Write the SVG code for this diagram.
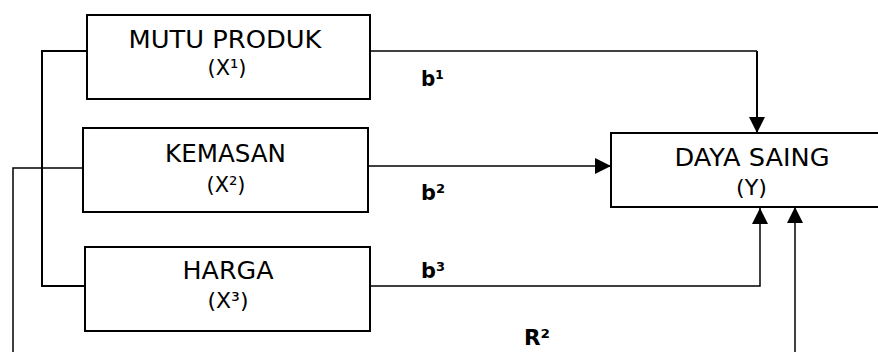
<svg xmlns="http://www.w3.org/2000/svg" width="878" height="352" viewBox="0 0 878 352">
<style>
  .box { fill: #ffffff; stroke: #000000; stroke-width: 2; }
  .t { font-family: "DejaVu Sans", "Liberation Sans", Arial, sans-serif; font-size: 25px; fill: #000000; text-anchor: middle; }
  .s { font-family: "DejaVu Sans", "Liberation Sans", Arial, sans-serif; font-size: 22px; fill: #000000; text-anchor: middle; }
  .lbl { font-family: "DejaVu Sans", "Liberation Sans", Arial, sans-serif; font-size: 22px; font-weight: bold; fill: #000000; }
  .ln { fill: none; stroke: #000000; stroke-width: 1.5; }
  .ln2 { fill: none; stroke: #000000; stroke-width: 2; }
</style>
<defs>
  <marker id="ah" markerUnits="userSpaceOnUse" markerWidth="16" markerHeight="16" viewBox="0 0 16 16" refX="16" refY="8" orient="auto">
    <path d="M0,0 L16,8 L0,16 Z" fill="#000000"/>
  </marker>
</defs>
<rect width="878" height="352" fill="#ffffff"/>
<g id="connectors">
  <polyline class="ln2" points="87,51 42,51 42,286 87,286"/>
  <polyline class="ln" points="83,168 13,168 13,352"/>
  <polyline class="ln" points="370,51 757,51"/>
  <line class="ln2" x1="757" y1="51" x2="757" y2="133" marker-end="url(#ah)"/>
  <line class="ln" x1="369" y1="166" x2="611" y2="166" marker-end="url(#ah)"/>
  <polyline class="ln" points="370,286 760,286 760,208" marker-end="url(#ah)"/>
  <line class="ln" x1="795" y1="352" x2="795" y2="207" marker-end="url(#ah)"/>
</g>
<g id="node-x1">
  <rect class="box" x="87" y="15" width="283" height="84"/>
  <text class="t" x="225" y="48" textLength="193" lengthAdjust="spacingAndGlyphs">MUTU PRODUK</text>
  <text class="s" x="227" y="75" textLength="39" lengthAdjust="spacingAndGlyphs">(X¹)</text>
</g>
<g id="node-x2">
  <rect class="box" x="83" y="128" width="285" height="84"/>
  <text class="t" x="225.5" y="162" textLength="121" lengthAdjust="spacingAndGlyphs">KEMASAN</text>
  <text class="s" x="226" y="192" textLength="39" lengthAdjust="spacingAndGlyphs">(X²)</text>
</g>
<g id="node-x3">
  <rect class="box" x="85" y="247" width="285" height="84"/>
  <text class="t" x="228" y="279" textLength="91" lengthAdjust="spacingAndGlyphs">HARGA</text>
  <text class="s" x="228" y="308" textLength="41" lengthAdjust="spacingAndGlyphs">(X³)</text>
</g>
<g id="node-y">
  <rect class="box" x="611" y="133" width="280" height="74"/>
  <text class="t" x="752" y="166" textLength="155" lengthAdjust="spacingAndGlyphs">DAYA SAING</text>
  <text class="s" x="751.5" y="195" textLength="31" lengthAdjust="spacingAndGlyphs">(Y)</text>
</g>
<g id="labels">
  <text class="lbl" x="421" y="86" textLength="23" lengthAdjust="spacingAndGlyphs">b¹</text>
  <text class="lbl" x="421" y="200" textLength="24" lengthAdjust="spacingAndGlyphs">b²</text>
  <text class="lbl" x="421" y="278" textLength="24" lengthAdjust="spacingAndGlyphs">b³</text>
  <text class="lbl" x="524" y="345" textLength="26" lengthAdjust="spacingAndGlyphs">R²</text>
</g>
</svg>
